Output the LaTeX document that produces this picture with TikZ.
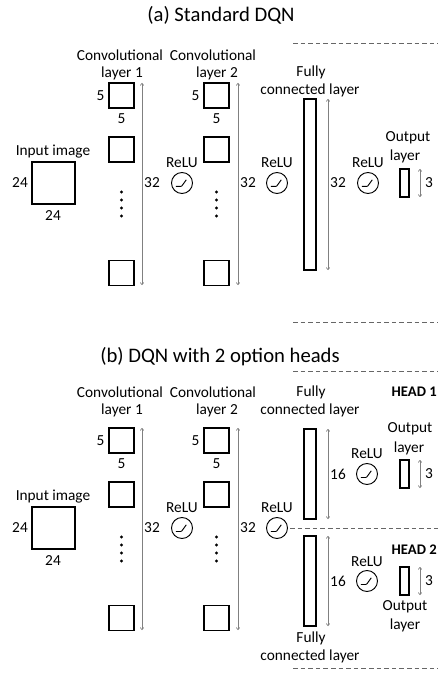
\documentclass[tikz,border=0pt]{standalone}
\usepackage{fontspec}
\setmainfont{Carlito}
\usetikzlibrary{arrows.meta,positioning}

\tikzset{
  txt/.style = {inner sep=0pt, font=\fontsize{11.5}{14}\selectfont},
  title/.style = {inner sep=0pt, font=\fontsize{15.5}{18}\selectfont},
  head/.style = {inner sep=0pt, font=\fontsize{11}{14}\selectfont\bfseries, anchor=east},
  kern/.style = {draw, line width=0.8pt, minimum size=18.75pt, inner sep=0pt},
  inimg/.style = {draw, line width=0.8pt, minimum width=32.25pt, minimum height=31.5pt, inner sep=0pt},
  fcbar/.style = {draw, line width=0.8pt, minimum width=9pt, inner sep=0pt},
  outbar/.style = {draw, line width=0.8pt, minimum width=6.75pt, minimum height=21pt, inner sep=0pt},
  relu/.style = {draw, circle, line width=0.7pt, minimum size=15.75pt, inner sep=0pt,
    path picture={\draw[line width=0.7pt, rounded corners=0.6pt]
      ([shift={(-4.6pt,-2.6pt)}]path picture bounding box.center) -- ++(4.2pt,0) -- ++(3.6pt,5pt);}},
  dim/.style = {gray, line width=0.5pt, {To[length=2pt,width=3pt]}-{To[length=2pt,width=3pt]}},
  sep/.style = {gray!80!black, line width=0.6pt, dash pattern=on 3.5pt off 2.2pt},
}

\begin{document}
\begin{tikzpicture}[x=0.75pt, y=-0.75pt]
\useasboundingbox (0,0) rectangle (438,673);

\node[title] (ta) at (221,15) {(a) Standard DQN};
\node[title] (tb) at (220,357) {(b) DQN with 2 option heads};

% shared part: input, two conv layers, two ReLUs
\foreach \n/\dy/\ly in {a/0/55, b/345/392}{
  \node[inimg] (in\n) at (53.5,183+\dy) {};
  \node[txt] (inl\n) at (53,152+\dy) {Input image};
  \node[txt] at (20,183+\dy) {24};
  \node[txt] at (53,216+\dy) {24};

  \foreach \c/\x/\dx in {1/121.5/142, 2/216.5/238}{
    \node[kern] (k\n\c a) at (\x,95.5+\dy) {};
    \node[kern] (k\n\c b) at (\x,149.5+\dy) {};
    \node[kern] (k\n\c c) at (\x,273+\dy) {};
    \foreach \d in {192,200,208,216}
      \fill (\x,\d+\dy) circle (1.2pt);
    \node[txt] at (\x-21,96+\dy) {5};
    \node[txt] at (\x,119+\dy) {5};
    \draw[dim] (\dx,83+\dy) -- (\dx,285+\dy);
    \node[txt] at (\dx+10,183+\dy) {32};
  }
  \node[txt] at (120,\ly) {Convolutional};
  \node[txt] at (122,\ly+18) {layer 1};
  \node[txt] at (213,\ly) {Convolutional};
  \node[txt] at (217,\ly+18) {layer 2};

  \node[relu] (r\n1) at (182,183+\dy) {};
  \node[txt] at (182,163+\dy) {ReLU};
  \node[relu] (r\n2) at (277,183+\dy) {};
  \node[txt] at (277,163+\dy) {ReLU};
}

% (a) fully connected and output
\node[fcbar, minimum height=128.25pt] (fca) at (310,184.5) {};
\node[txt] at (311,72) {Fully};
\node[txt] at (310,90) {connected layer};
\draw[dim] (328,99) -- (328,270);
\node[txt] at (338,183) {32};
\node[relu] (ra3) at (368,183) {};
\node[txt] at (368,163) {ReLU};
\node[outbar] (outa) at (404.5,183) {};
\node[txt] at (408,138) {Output};
\node[txt] at (405,156) {layer};
\draw[dim] (420,169) -- (420,197);
\node[txt] at (429,183) {3};
\draw[sep] (293,43) -- (438,43);
\draw[sep] (293,322) -- (438,322);

% (b) two option heads
\draw[sep] (293,371) -- (438,371);
\draw[sep] (rb2.east) ++(2,0) -- (438,528);
\draw[sep] (293,668) -- (438,668);
\foreach \h/\y/\fy/\ry in {1/474/392/454, 2/581/638/562}{
  \node[fcbar, minimum height=67.5pt] (fcb\h) at (310,\y) {};
  \draw[dim] (328,\y-45) -- (328,\y+45);
  \node[txt] at (338,\y) {16};
  \node[relu] (rh\h) at (367,\y) {};
  \node[txt] at (367,\ry) {ReLU};
  \node[outbar] (outb\h) at (404.5,\y) {};
  \draw[dim] (420,\y-14) -- (420,\y+14);
  \node[txt] at (429,\y) {3};
  \node[txt] at (311,\fy) {Fully};
  \node[txt] at (310,\fy+18) {connected layer};
}
\node[txt] at (410,429) {Output};
\node[txt] at (409,448) {layer};
\node[txt] at (405,607) {Output};
\node[txt] at (405,625) {layer};
\node[head] (h1) at (437,392) {HEAD 1};
\node[head] (h2) at (437,550) {HEAD 2};
\end{tikzpicture}
\end{document}
